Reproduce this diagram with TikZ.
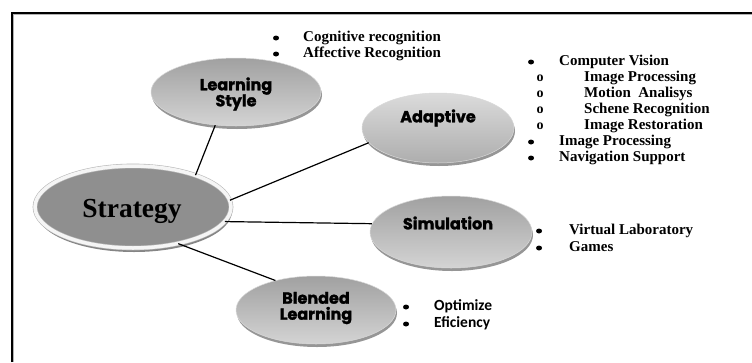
\documentclass[tikz,border=0pt]{standalone}
\usepackage{fontspec}
\setmainfont{Liberation Serif}
\newfontfamily\lblfont{Poppins}[BoldFeatures={FakeBold=1.6}]
\newfontfamily\calfont{Carlito}
\usetikzlibrary{shapes.geometric,shadows}
\begin{document}
\begin{tikzpicture}[x=1pt,y=-1pt,
  bubble/.style={ellipse, inner sep=0pt, draw=gray!30, line width=0.5pt,
    top color=gray!74, bottom color=gray!34,
    drop shadow={shadow xshift=1pt, shadow yshift=-3pt, opacity=0.55, fill=black!75}},
  lbl/.style={inner sep=0pt, align=center, font=\lblfont\bfseries\fontsize{16}{18}\selectfont},
  conn/.style={line width=1.2pt, black},
  item/.style={anchor=west, inner sep=0pt, text height=10pt, text depth=3pt,
    font=\bfseries\fontsize{15}{16}\selectfont},
  citem/.style={item, font=\calfont\bfseries\fontsize{15.5}{16}\selectfont},
  sub/.style={anchor=center, inner sep=0pt, text height=7pt, text depth=0pt,
    font=\bfseries\fontsize{14}{16}\selectfont},
  bul/.style={ellipse, fill=black, inner sep=0pt, minimum width=6pt, minimum height=5pt},
]
\useasboundingbox (0,0) rectangle (752,362);
% frame
\draw[gray!60, line width=1pt] (13.5,362) -- (13.5,14.5) -- (752,14.5);
\draw[black, line width=1.6pt] (12,362) -- (12,13) -- (752,13);

% ellipses
\node[bubble, minimum width=170pt, minimum height=68pt] (ls) at (236,92) {};
\node[bubble, minimum width=152pt, minimum height=70pt, top color=gray!28, bottom color=gray!64] (adp) at (438,128) {};
\node[bubble, minimum width=162pt, minimum height=72pt] (sim) at (451,232) {};
\node[bubble, minimum width=160pt, minimum height=68pt] (bl) at (316,310) {};
\node[ellipse, inner sep=0pt, minimum width=196pt, minimum height=82pt,
  fill=black!44, draw=gray!55, line width=0.6pt, double=gray!8, double distance=3.5pt,
  drop shadow={shadow xshift=1pt, shadow yshift=-4pt, opacity=0.6, fill=black!80}] (str) at (133,207) {};

% labels
\node[lbl] (ls-t) at (236,94) {Learning\\[-2pt]Style};
\node[lbl] (adp-t) at (438,118) {Adaptive};
\node[lbl] (sim-t) at (448,223) {Simulation};
\node[lbl] (bl-t) at (316,308) {Blended\\[-2pt]Learning};
\node[inner sep=0pt, font=\bfseries\fontsize{27.5}{28}\selectfont] (str-t) at (132,211) {Strategy};

% connectors
\draw[conn] (str.27) -- (ls.238);
\draw[conn] (str.4) -- (adp.192);
\draw[conn] (str.351) -- (sim.174);
\draw[conn] (str.321) -- (bl.144);

% learning style list
\node[bul] (b1) at (276,38) {}; \node[item] (t1) at (303,38) {Cognitive recognition};
\node[bul] (b2) at (276,54) {}; \node[item] (t2) at (303,54) {Affective Recognition};

% adaptive list
\node[bul] (a1) at (531,62) {}; \node[item] (at1) at (559,62) {Computer Vision};
\node[sub] (o1) at (540,78) {o}; \node[item] (ot1) at (584,78) {Image Processing};
\node[sub] (o2) at (540,94) {o}; \node[item] (ot2) at (584,94) {Motion\ \ Analisys};
\node[sub] (o3) at (540,110) {o}; \node[item] (ot3) at (584,110) {Schene Recognition};
\node[sub] (o4) at (540,126) {o}; \node[item] (ot4) at (584,126) {Image Restoration};
\node[bul] (a2) at (531,142) {}; \node[item] (at2) at (559,142) {Image Processing};
\node[bul] (a3) at (531,158) {}; \node[item] (at3) at (559,158) {Navigation Support};

% simulation list
\node[bul] (s1) at (539,231) {}; \node[item] (st1) at (569,231) {Virtual Laboratory};
\node[bul] (s2) at (539,248) {}; \node[item] (st2) at (569,248) {Games};

% blended list
\node[bul] (c1) at (406,307) {}; \node[citem] (ct1) at (434,307) {Optimize};
\node[bul] (c2) at (406,324) {}; \node[citem] (ct2) at (434,324) {Eficiency};
\end{tikzpicture}
\end{document}
